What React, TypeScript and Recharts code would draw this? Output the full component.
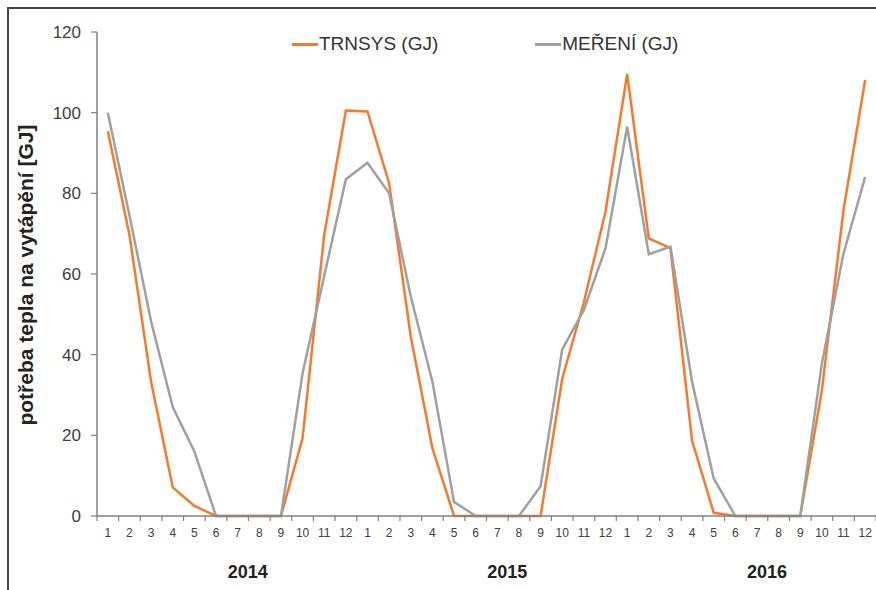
import { LineChart, Line, XAxis, YAxis, Legend, Label } from "recharts";

const months = ["1", "2", "3", "4", "5", "6", "7", "8", "9", "10", "11", "12"];
const years = ["2014", "2015", "2016"];
const yTicks = [0, 20, 40, 60, 80, 100, 120];
const seriesNames = ["TRNSYS (GJ)", "MEŘENÍ (GJ)"];

// TRNSYS simulation, GJ per month (2014-2016)
const trnsys = [
  95.4, 69.7, 33.3, 7.1, 2.5, 0, 0, 0, 0, 19.3, 69.7, 100.5,
  100.3, 82.5, 44.5, 16.8, 0, 0, 0, 0, 0, 34.1, 53, 75.5,
  109.6, 68.8, 66.4, 18.7, 0.8, 0, 0, 0, 0, 31.2, 75.9, 108.1,
];

// measured, GJ per month (2014-2016)
const mereni = [
  100, 74.5, 48.2, 27, 16, 0, 0, 0, 0, 35.4, 59.5, 83.5,
  87.6, 80, 54.4, 33.3, 3.5, 0, 0, 0, 7.4, 41.3, 51.1, 66.4,
  96.5, 64.9, 66.8, 33.3, 9.3, 0, 0, 0, 0, 37.9, 65.1, 84.1,
];

const data = trnsys.map((v, i) => ({
  key: `${years[Math.floor(i / 12)]}-${months[i % 12]}`,
  trnsys: v,
  mereni: mereni[i],
}));

const FONT = '"Liberation Sans", Arial, sans-serif';
const ORANGE = "#f47a2e";
const GRAY = "#a0a0a0";
const HALF_STEP = 10.82;

function MonthTick(props: any) {
  const { x, y, payload } = props;
  const i = payload.index;
  const axisY = y - 5;
  return (
    <g>
      <line x1={x - HALF_STEP} y1={axisY} x2={x - HALF_STEP} y2={axisY + 5} stroke="#808080" strokeWidth={1.2} />
      {i === data.length - 1 && (
        <line x1={x + HALF_STEP} y1={axisY} x2={x + HALF_STEP} y2={axisY + 5} stroke="#808080" strokeWidth={1.2} />
      )}
      <text x={x} y={y + 16} textAnchor="middle" fontSize={12} fill="#404040" fontFamily={FONT}>
        {months[i % 12]}
      </text>
      {i % 12 === 6 && (
        <text x={x + 10} y={y + 57} textAnchor="middle" fontSize={18} fontWeight="bold" fill="#222" fontFamily={FONT}>
          {years[Math.floor(i / 12)]}
        </text>
      )}
    </g>
  );
}

function LegendContent(props: any) {
  const items = [...(props.payload || [])].sort(
    (a: any, b: any) => seriesNames.indexOf(a.value) - seriesNames.indexOf(b.value)
  );
  return (
    <div style={{ display: "flex", fontFamily: FONT, fontSize: 19, color: "#333", lineHeight: "22px" }}>
      {items.map((p: any, k: number) => (
        <div key={p.value} style={{ display: "flex", alignItems: "center", marginRight: k === 0 ? 97 : 0 }}>
          <span style={{ display: "inline-block", width: 26, height: 3, background: p.color, marginRight: 1 }} />
          <span>{p.value}</span>
        </div>
      ))}
    </div>
  );
}

export default function App() {
  return (
    <div
      style={{
        position: "fixed",
        left: 0,
        top: 0,
        width: 876,
        height: 590,
        overflow: "hidden",
        background: "#fff",
      }}
    >
      <div
        style={{
          position: "absolute",
          left: 7,
          top: 7,
          width: 880,
          height: 600,
          borderTop: "2px solid #444",
          borderLeft: "2px solid #444",
        }}
      />
      <div style={{ position: "absolute", left: 8, top: 8 }}>
        <LineChart width={868} height={574} data={data} margin={{ top: 24, right: 0, bottom: 0, left: 0 }}>
          <XAxis
            dataKey="key"
            height={66}
            padding={{ left: HALF_STEP, right: HALF_STEP }}
            interval={0}
            tickLine={false}
            tickSize={5}
            tickMargin={0}
            tick={<MonthTick />}
            axisLine={{ stroke: "#808080", strokeWidth: 1.5 }}
          />
          <YAxis
            width={89}
            domain={[0, 120]}
            ticks={yTicks}
            tickSize={6}
            tickMargin={10}
            tick={{ fontSize: 17, fill: "#404040", fontFamily: FONT }}
            tickLine={{ stroke: "#808080", strokeWidth: 1.2 }}
            axisLine={{ stroke: "#808080", strokeWidth: 1.5 }}
          >
            <Label
              content={() => (
                <text
                  x={25}
                  y={267}
                  transform="rotate(-90 25 267)"
                  textAnchor="middle"
                  fontSize={21}
                  fontWeight="bold"
                  fill="#222"
                  fontFamily={FONT}
                >
                  potřeba tepla na vytápění [GJ]
                </text>
              )}
            />
          </YAxis>
          <Legend
            layout="vertical"
            verticalAlign="middle"
            align="center"
            content={<LegendContent />}
            wrapperStyle={{ top: 25, left: 284, width: 440 }}
          />
          <Line
            type="linear"
            dataKey="trnsys"
            name={seriesNames[0]}
            stroke={ORANGE}
            strokeWidth={2.5}
            dot={false}
            isAnimationActive={false}
          />
          <Line
            type="linear"
            dataKey="mereni"
            name={seriesNames[1]}
            stroke={GRAY}
            strokeWidth={2.5}
            dot={false}
            isAnimationActive={false}
          />
        </LineChart>
      </div>
    </div>
  );
}
